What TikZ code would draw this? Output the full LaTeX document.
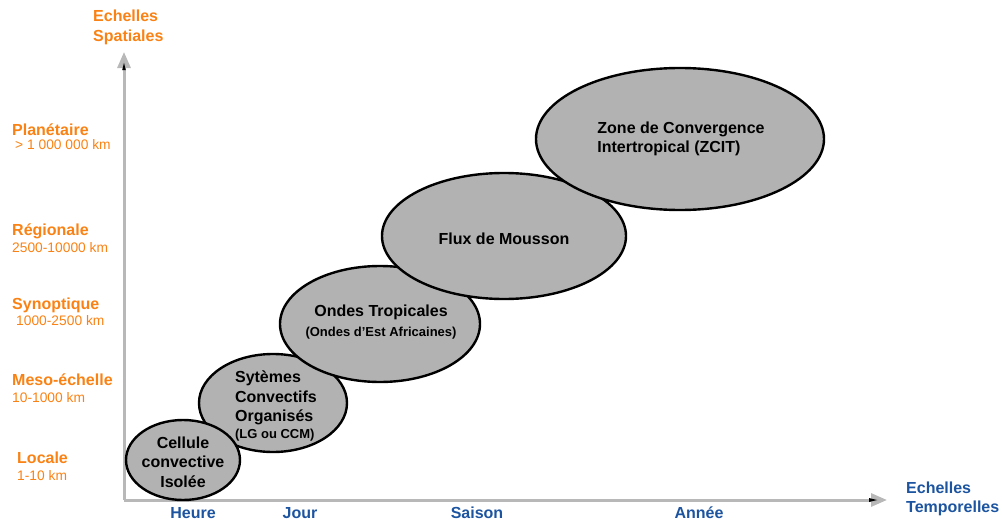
\documentclass[tikz,border=0pt]{standalone}
\usepackage{fontspec}
\setmainfont{Liberation Sans}
\usetikzlibrary{arrows.meta}
\definecolor{echorange}{RGB}{250,130,20}
\definecolor{echblue}{RGB}{28,84,160}
\definecolor{zonegray}{RGB}{178,178,178}
\definecolor{axisgray}{RGB}{184,184,184}

\begin{document}
\begin{tikzpicture}[x=1pt,y=-1pt,
  zone/.style={draw=black,line width=2.4pt,fill=zonegray},
  zonetext/.style={inner sep=0pt,align=center,font=\bfseries\fontsize{16}{19.5}\selectfont},
  axis/.style={axisgray,line width=3pt,-{Triangle[length=16pt,width=13pt,fill=black!30,color=axisgray]}},
  spatial/.style={echorange,inner sep=0pt,anchor=base west,font=\bfseries\fontsize{16}{20}\selectfont},
  kmrange/.style={echorange,inner sep=0pt,anchor=base west,font=\fontsize{13.8}{16}\selectfont},
  temporal/.style={echblue,inner sep=0pt,anchor=base,font=\bfseries\fontsize{16}{19}\selectfont}]
\useasboundingbox (0,0) rectangle (1002,522);
% axes
\coordinate (origin) at (124,500); \coordinate (ytip) at (124,52); \coordinate (xtip) at (887,500);
\draw [axis] (origin) -- (ytip); \draw [axis] (origin) -- (xtip);
\fill [black] (ytip) ++(-1.8,18) -- ++(1.8,-7) -- ++(1.8,7) -- cycle; \fill [black] (xtip) ++(-18,-2) -- ++(8,2) -- ++(-8,2) -- cycle;
\node [spatial] (ylabel) at (93,21) {Echelles}; \node [spatial] (ylabel2) at (93,41) {Spatiales};
\node [temporal,anchor=base west] (xlabel) at (906,493) {Echelles}; \node [temporal,anchor=base west] (xlabel2) at (906,512) {Temporelles};
% spatial scales
\foreach \i/\y/\dy/\dx/\name/\dist in {1/135/14/3/Planétaire/> 1 000 000 km, 2/235/17/0/Régionale/2500-10000 km, 3/309/16/4/Synoptique/1000-2500 km, 4/385/17/0/Meso-échelle/10-1000 km, 5/463/17/0/Locale/1-10 km} {
  \ifnum\i=5 \def\x{17}\else \def\x{12}\fi
  \node [spatial] (scale-\i) at (\x,\y) {\name}; \node [kmrange] (dist-\i) at (\x+\dx,\y+\dy) {\dist}; };
% temporal scales
\foreach \i/\x/\name in {1/193/Heure, 2/300/Jour, 3/477/Saison, 4/699/Année} { \node [temporal] (time-\i) at (\x,518) {\name}; };
% phenomena
\draw [zone] (273,403) ellipse [x radius=74, y radius=49];
\node [zonetext,align=left] (sytemes) at (276,406) {Sytèmes\\Convectifs\\Organisés\\[-3pt]{\fontsize{13}{16}\selectfont(LG ou CCM)}};
\draw [zone] (183,460) ellipse [x radius=57, y radius=40];
\node [zonetext] (cellule) at (183,462) {Cellule\\convective\\Isolée};
\draw [zone] (380,324) ellipse [x radius=100, y radius=58];
\node [zonetext] (ondes) at (381,322) {Ondes Tropicales\\{\fontsize{13}{16}\selectfont(Ondes d’Est Africaines)}};
\draw [zone] (504,236) ellipse [x radius=122, y radius=63];
\node [zonetext] (flux) at (504,239) {Flux de Mousson};
\draw [zone] (680,139) ellipse [x radius=144, y radius=71];
\node [zonetext,align=left] (zcit) at (681,139) {Zone de Convergence\\Intertropical (ZCIT)};
\end{tikzpicture}
\end{document}
